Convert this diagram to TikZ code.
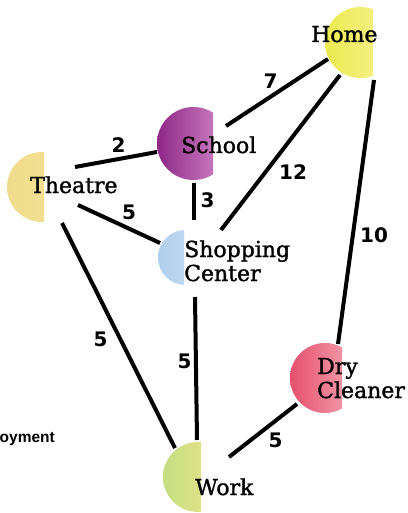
\documentclass[tikz,border=0pt]{standalone}
\usepackage{fontspec}
\setmainfont{DejaVu Serif}
\newfontfamily\placefont{DejaVu Serif}[FakeBold=1.4]
\newfontfamily\numfont{DejaVu Sans}
\newfontfamily\notefont{Liberation Sans}
\usetikzlibrary{calc}

\definecolor{homeA}{RGB}{236,234,80}
\definecolor{homeB}{RGB}{246,242,150}
\definecolor{schoolA}{RGB}{142,40,134}
\definecolor{schoolB}{RGB}{214,140,204}
\definecolor{theatreA}{RGB}{240,220,140}
\definecolor{theatreB}{RGB}{244,226,150}
\definecolor{shopA}{RGB}{176,206,236}
\definecolor{shopB}{RGB}{210,226,244}
\definecolor{dryA}{RGB}{230,80,108}
\definecolor{dryB}{RGB}{244,170,184}
\definecolor{workA}{RGB}{196,222,130}
\definecolor{workB}{RGB}{244,228,140}

% a town blob: disc clipped by a vertical edge on its right
% #1 name, #2 cx, #3 cy, #4 radius, #5 x of the cut, #6 left colour, #7 right colour
\newcommand\townblob[7]{%
  \coordinate (#1) at (#2,#3);
  \begin{scope}
    \clip (#2-#4-1,#3-#4-1) rectangle (#5,#3+#4+1);
    \shade[left color=#6,right color=#7] (#1) circle[radius=#4];
  \end{scope}}

\begin{document}
\begin{tikzpicture}[x=1pt,y=-1pt,
  road/.style={line width=4pt},
  dist/.style={font=\numfont\bfseries\fontsize{20}{20}\selectfont, inner sep=0pt},
  place/.style={font=\placefont\fontsize{22}{24}\selectfont, inner sep=0pt, anchor=base west, align=left},
]
\useasboundingbox (0,0) rectangle (407,513);

\townblob{home}{360.5}{42.5}{35.5}{373}{homeA}{homeB}
\townblob{school}{193.5}{143.5}{36.5}{213}{schoolA}{schoolB}
\townblob{theatre}{42}{187}{35}{44}{theatreA}{theatreB}
\townblob{shop}{185.5}{257.5}{27.5}{184}{shopA}{shopB}
\townblob{dry}{325}{378}{35}{342}{dryA}{dryB}
\townblob{work}{198}{477}{35}{201}{workA}{workB}

% roads
\draw[road] ($(home)+(-32.5,16.5)$) -- ($(school)+(32.5,-17.5)$);
\draw[road] ($(home)+(-20.5,32.5)$) -- ($(shop)+(35.5,-27.5)$);
\draw[road] ($(home)+(13.5,37.5)$) -- ($(dry)+(13,-34)$);
\draw[road] ($(school)+(-36.5,8.5)$) -- ($(theatre)+(33,-20)$);
\draw[road] ($(school)+(0.5,39.5)$) -- ($(shop)+(8.5,-37.5)$);
\draw[road] ($(theatre)+(36,18)$) -- ($(shop)+(-25.5,-14.5)$);
\draw[road] ($(theatre)+(20,36)$) -- ($(work)+(-23,-29)$);
\draw[road] ($(shop)+(9.5,39.5)$) -- ($(work)+(-1,-37)$);
\draw[road] ($(dry)+(-28,26)$) -- ($(work)+(31,-20)$);

% distances
\node[dist] (d7)  at (270.5,81)  {7};
\node[dist] (d12) at (293,172.5) {12};
\node[dist] (d10) at (374,235)   {10};
\node[dist] (d2)  at (118.5,145) {2};
\node[dist] (d3)  at (207.5,200.5) {3};
\node[dist] (d5a) at (129,212.5) {5};
\node[dist] (d5b) at (100.5,339) {5};
\node[dist] (d5c) at (184.5,361.5) {5};
\node[dist] (d5d) at (275.5,440) {5};

% place names (base of a two-line name is its last line)
\node[place] (homeT)    at (311,42)  {Home};
\node[place] (schoolT)  at (181,153) {School};
\node[place] (theatreT) at (30,193)  {Theatre};
\node[place] (shopT)    at (184,281) {Shopping\\Center};
\node[place] (dryT)     at (317,398) {Dry\\Cleaner};
\node[place] (workT)    at (195,495) {Work};

\node[font=\notefont\bfseries\fontsize{15.5}{16}\selectfont, inner sep=0pt, anchor=base west] (note) at (-0.5,442) {oyment};
\end{tikzpicture}
\end{document}
